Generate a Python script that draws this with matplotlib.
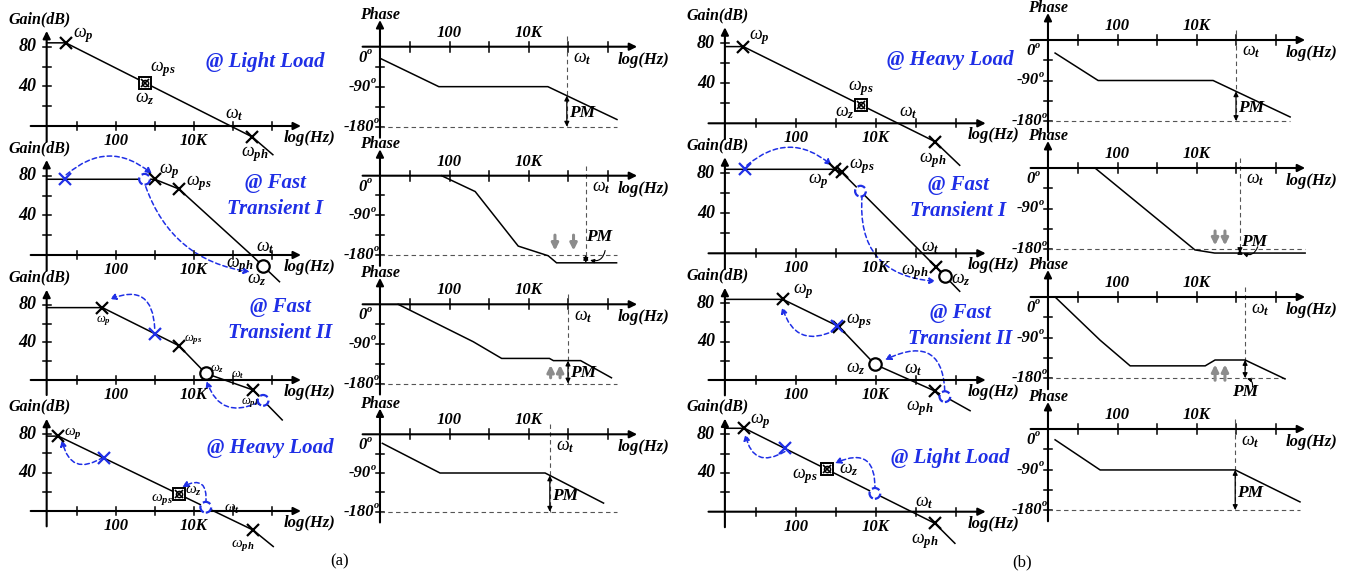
import numpy as np
import matplotlib
matplotlib.use("Agg")
import matplotlib.pyplot as plt
from matplotlib.patches import FancyArrowPatch

plt.rcParams["font.family"] = ["Liberation Serif", "DejaVu Serif"]
plt.rcParams["mathtext.fontset"] = "custom"
plt.rcParams["mathtext.rm"] = "Liberation Serif"
plt.rcParams["mathtext.it"] = "Liberation Serif:italic"
plt.rcParams["mathtext.bf"] = "Liberation Serif:bold:italic"

# ---------------------------------------------------------------- data
# x values are log10(f) in decades (tick 1 = 10 Hz ... tick 6 = 1 MHz)
# gain values in dB, phase values in degrees

# column (a) gain curves
ga1_x = [0.23, 0.72, 5.50, 6.03]
ga1_y = [84, 84, -11, -29]
ga2_x = [0.23, 3.00, 3.62, 5.48, 6.20]
ga2_y = [76.5, 76.5, 66.7, 0, -27]
ga3_x = [0.23, 1.66, 3.62, 4.31, 5.52, 6.27]
ga3_y = [77, 77, 36.5, 7, -10.6, -42.5]
ga4_x = [0.23, 0.53, 5.52, 6.04]
ga4_y = [78, 78, -19.8, -37]

# column (b) gain curves
gb1_x = [0.23, 0.69, 5.48, 6.10]
gb1_y = [76.7, 76.7, -18.3, -42]
gb2_x = [0.23, 2.98, 3.15, 5.50, 6.10]
gb2_y = [84, 84, 81, -13.4, -38]
gb3_x = [0.23, 1.68, 3.08, 3.98, 5.48, 6.36]
gb3_y = [84, 84, 55.6, 16.3, -11.5, -32]
gb4_x = [0.23, 0.72, 5.48, 5.98]
gb4_y = [86, 86, -12, -32.6]

# column (a) phase curves
pa1_x = [0.24, 1.73, 4.49, 6.24]
pa1_y = [-26, -90, -90, -164]
pa2_x = [1.80, 2.65, 3.74, 4.50, 4.71, 6.23]
pa2_y = [0, -36, -160, -182, -198, -198]
pa3_x = [0.70, 2.60, 3.32, 4.53, 4.63, 5.32, 6.10]
pa3_y = [0, -85, -123, -123, -128, -128, -167]
pa4_x = [0.30, 1.76, 4.42, 5.90]
pa4_y = [-21, -90, -90, -160]

# column (b) phase curves
pb1_x = [0.42, 1.51, 4.42, 6.37]
pb1_y = [-29, -90, -90, -171]
pb2_x = [1.43, 3.96, 4.46, 6.75]
pb2_y = [0, -182, -189, -189]
pb3_x = [0.42, 1.56, 2.32, 4.22, 4.47, 5.23, 6.24]
pb3_y = [0, -96, -153, -153, -140, -140, -182]
pb4_x = [0.42, 1.56, 4.98, 6.62]
pb4_y = [-24, -91, -91, -162]

# crossover frequency (decades) per phase panel
wt_a = [4.97, 5.45, 5.00, 4.54]
wt_b = [5.00, 5.10, 5.23, 4.98]

gain_ticks = [20, 40, 60, 80]
gain_labels = ["80", "40"]
phase_ticks = [-45, -90, -135, -180]
phase_labels = [(0, "0"), (-90, "-90"), (-180, "-180")]
freq_ticks = [1, 2, 3, 4, 5, 6]
freq_labels = {2: "100", 4: "10K"}

# --------------------------------------------------------------- figure
W, H = 1367, 571
fig = plt.figure(figsize=(W / 100, H / 100), dpi=100)

BLUE = "#1f2fe6"
GRAY = "#8c8c8c"
TXT = dict(fontweight="bold", fontstyle="italic", color="black")


def make_panel(ox, oy, sx, sy, xlim, ylim):
    """Axes where x=0 maps to pixel ox, y=0 to pixel oy (sx, sy px per unit)."""
    x0, x1 = ox + xlim[0] * sx, ox + xlim[1] * sx
    ytop, ybot = oy - ylim[1] * sy, oy - ylim[0] * sy
    ax = fig.add_axes([x0 / W, 1 - ybot / H, (x1 - x0) / W, (ybot - ytop) / H])
    ax.set_xlim(*xlim)
    ax.set_ylim(*ylim)
    ax.axis("off")
    ax.sx, ax.sy = sx, sy
    return ax


def arrow_line(ax, p0, p1, lw=1.5):
    ax.annotate("", xy=p1, xytext=p0, annotation_clip=False,
                arrowprops=dict(arrowstyle="-|>", lw=lw, color="black",
                                mutation_scale=11, shrinkA=0, shrinkB=0))


def gain_axes(ax):
    yx = 0.23
    arrow_line(ax, (-0.18, 0), (6.75, 0))
    arrow_line(ax, (yx, -16), (yx, 96))
    for t in freq_ticks:
        ax.plot([t, t], [-4 / ax.sy, 4 / ax.sy], color="black", lw=1.1)
    for t in gain_ticks:
        ax.plot([yx - 4 / ax.sx, yx + 4 / ax.sx], [t, t], color="black", lw=1.1)
    for t, s in freq_labels.items():
        ax.annotate(s, (t, 0), xytext=(0, -15), textcoords="offset pixels",
                    ha="center", va="center", fontsize=12, **TXT)
    for s in gain_labels:
        ax.annotate(s, (yx, float(s)), xytext=(-10, 0), textcoords="offset pixels",
                    ha="right", va="center", fontsize=13, **TXT)
    ax.annotate("log(Hz)", (6.0, 0), xytext=(38, -12), textcoords="offset pixels",
                ha="center", va="center", fontsize=12, **TXT)
    ax.annotate("Gain(dB)", (yx, 96), xytext=(-7, 12), textcoords="offset pixels",
                ha="center", va="center", fontsize=11.5, **TXT)


def phase_axes(ax, wt, pm_top, pm_bottom=-180, dash_end=6.24):
    yx = 0.24
    arrow_line(ax, (-0.2, 0), (6.75, 0))
    arrow_line(ax, (yx, -205), (yx, 60))
    for t in freq_ticks:
        ax.plot([t, t], [-5 / ax.sy, 5 / ax.sy], color="black", lw=1.1)
    for t in phase_ticks:
        ax.plot([yx - 4 / ax.sx, yx + 4 / ax.sx], [t, t], color="black", lw=1.1)
    for t, s in freq_labels.items():
        ax.annotate(s, (t, 0), xytext=(0, 14), textcoords="offset pixels",
                    ha="center", va="center", fontsize=12, **TXT)
    for v, s in phase_labels:
        dx = {0: -13, -90: -9, -180: -6}[v]
        dy = -11 if v == 0 else 0
        ax.annotate(s, (yx, v), xytext=(dx, dy), textcoords="offset pixels",
                    ha="right", va="center", fontsize=12, **TXT)
        ax.annotate("o", (yx, v), xytext=(dx, dy + 6), textcoords="offset pixels",
                    ha="left", va="center", fontsize=7.5, **TXT)
    ax.annotate("Phase", (yx, 60), xytext=(0, 5), textcoords="offset pixels",
                ha="center", va="center", fontsize=11.5, **TXT)
    ax.annotate("log(Hz)", (6.0, 0), xytext=(36, -13), textcoords="offset pixels",
                ha="center", va="center", fontsize=12, **TXT)
    ax.annotate(r"$\omega_{\mathbf{t}}$", (wt, 0), xytext=(15, -12),
                textcoords="offset pixels", ha="center", va="center", fontsize=13)
    ax.plot([wt, wt], [8 / ax.sy + 5, -180], color="#555555", lw=0.8,
            ls=(0, (4, 3)))
    ax.plot([yx, dash_end], [-180, -180], color="#555555", lw=0.8, ls=(0, (4, 3)))
    ax.annotate("", xy=(wt, pm_bottom), xytext=(wt, pm_top),
                arrowprops=dict(arrowstyle="<|-|>", lw=0.9, color="black",
                                mutation_scale=7, shrinkA=0, shrinkB=0))


def curve(ax, xs, ys):
    ax.plot(xs, ys, color="black", lw=1.1, solid_joinstyle="miter", clip_on=False)


def on(xs, ys, x):
    return float(np.interp(x, xs, ys))


def xmark(ax, xs, ys, x, color="black"):
    ax.plot([x], [on(xs, ys, x)], marker="x", ms=8, mew=1.6, color=color,
            clip_on=False, zorder=5)


def omark(ax, xs, ys, x, color="black", dashed=False, s=80):
    ax.scatter([x], [on(xs, ys, x)], s=s, facecolors="white", edgecolors=color,
               linewidths=1.6, linestyles="--" if dashed else "-",
               zorder=6, clip_on=False)


def boxmark(ax, xs, ys, x):
    y = on(xs, ys, x)
    ax.plot([x], [y], marker="s", ms=8, mfc="white", mec="black", mew=1.4, zorder=5)
    ax.plot([x], [y], marker="x", ms=6, color="black", mew=1.2, zorder=6)
    ax.plot([x], [y], marker="o", ms=4.5, mfc="none", mec="black", mew=1.0, zorder=6)


def wlabel(ax, xs, ys, x, sub, dx, dy, size=13):
    ax.annotate(r"$\omega_{\mathbf{%s}}$" % sub, (x, on(xs, ys, x)), xytext=(dx, dy),
                textcoords="offset pixels", ha="center", va="center", fontsize=size,
                annotation_clip=False)


def arc(ax, p0, p1, rad):
    a = FancyArrowPatch(p0, p1, connectionstyle="arc3,rad=%s" % rad,
                        arrowstyle="-|>", mutation_scale=9, lw=1.1, color=BLUE,
                        linestyle=(0, (3, 2)), shrinkA=0, shrinkB=0, clip_on=False)
    ax.add_patch(a)


def hook(ax, p0, p1, rad):
    a = FancyArrowPatch(p0, p1, connectionstyle="arc3,rad=%s" % rad,
                        arrowstyle="-|>", mutation_scale=6, lw=0.8, color="black",
                        shrinkA=0, shrinkB=0, clip_on=False)
    ax.add_patch(a)


def gray_arrows(ax, xs, y0, y1):
    for gx in xs:
        ax.annotate("", xy=(gx, y1), xytext=(gx, y0),
                    arrowprops=dict(arrowstyle="-|>", lw=2.2, color=GRAY,
                                    mutation_scale=10, shrinkA=0, shrinkB=0))


def pm_label(ax, x, y, dx=15):
    ax.annotate("PM", (x, y), xytext=(dx, 0), textcoords="offset pixels",
                ha="center", va="center", fontsize=12.5, **TXT)


def title(x, y, lines):
    for i, s in enumerate(lines):
        fig.text(x / W, 1 - (y + 26 * i) / H, s, color=BLUE, fontsize=15,
                 fontweight="bold", fontstyle="italic", ha="center", va="center")


GX = (-0.6, 7.6)
GY = (-45, 110)
PY = (-215, 75)

# ------------------------------------------------------ column (a) gain
ax = make_panel(37.7, 126, 39.0, 0.99, GX, GY)
gain_axes(ax)
curve(ax, ga1_x, ga1_y)
xmark(ax, ga1_x, ga1_y, 0.72)
boxmark(ax, ga1_x, ga1_y, 2.75)
xmark(ax, ga1_x, ga1_y, 5.50)
wlabel(ax, ga1_x, ga1_y, 0.72, "p", 18, 8)
wlabel(ax, ga1_x, ga1_y, 2.75, "ps", 18, 14)
wlabel(ax, ga1_x, ga1_y, 2.75, "z", 0, -16)
wlabel(ax, ga1_x, ga1_y, 4.95, "t", 4, 12)
wlabel(ax, ga1_x, ga1_y, 5.50, "ph", 2, -17)
title(265, 62, ["@ Light Load"])

ax = make_panel(37.7, 255, 39.0, 0.99, GX, GY)
gain_axes(ax)
curve(ax, ga2_x, ga2_y)
xmark(ax, ga2_x, ga2_y, 3.00)
xmark(ax, ga2_x, ga2_y, 3.62)
omark(ax, ga2_x, ga2_y, 5.77)
xmark(ax, ga2_x, ga2_y, 0.70, color=BLUE)
omark(ax, ga2_x, ga2_y, 2.74, color=BLUE, dashed=True, s=60)
arc(ax, (0.73, 81), (2.93, 82), -0.42)
arc(ax, (2.77, 69), (5.44, -17), 0.3)
wlabel(ax, ga2_x, ga2_y, 3.00, "p", 15, 8)
wlabel(ax, ga2_x, ga2_y, 3.62, "ps", 20, 6)
wlabel(ax, ga2_x, ga2_y, 5.48, "t", 14, 7)
wlabel(ax, ga2_x, ga2_y, 5.48, "ph", -12, -10)
wlabel(ax, ga2_x, ga2_y, 5.77, "z", -6, -14)
title(275, 183, ["@ Fast", "Transient I"])

ax = make_panel(37.7, 380, 39.0, 0.94, GX, GY)
gain_axes(ax)
curve(ax, ga3_x, ga3_y)
xmark(ax, ga3_x, ga3_y, 1.66)
xmark(ax, ga3_x, ga3_y, 3.62)
omark(ax, ga3_x, ga3_y, 4.31)
xmark(ax, ga3_x, ga3_y, 5.52)
xmark(ax, ga3_x, ga3_y, 3.00, color=BLUE)
omark(ax, ga3_x, ga3_y, 5.78, color=BLUE, dashed=True, s=60)
arc(ax, (3.0, 55), (1.85, 86), 0.7)
arc(ax, (5.65, -24), (4.33, -1), -0.55)
wlabel(ax, ga3_x, ga3_y, 1.66, "p", 1, -13, size=9)
wlabel(ax, ga3_x, ga3_y, 3.62, "ps", 14, 6, size=9)
wlabel(ax, ga3_x, ga3_y, 4.31, "z", 11, 5, size=9)
wlabel(ax, ga3_x, ga3_y, 5.00, "t", 5, 8, size=9)
wlabel(ax, ga3_x, ga3_y, 5.52, "ph", -2, -13, size=9)
title(280, 307, ["@ Fast", "Transient II"])

ax = make_panel(37.7, 511, 39.0, 0.96, GX, GY)
gain_axes(ax)
curve(ax, ga4_x, ga4_y)
xmark(ax, ga4_x, ga4_y, 0.53)
boxmark(ax, ga4_x, ga4_y, 3.62)
xmark(ax, ga4_x, ga4_y, 5.52)
xmark(ax, ga4_x, ga4_y, 1.70, color=BLUE)
omark(ax, ga4_x, ga4_y, 4.31, color=BLUE, dashed=True, s=60)
arc(ax, (1.68, 56), (0.62, 74), -0.7)
arc(ax, (4.31, 8), (3.70, 25), 0.9)
wlabel(ax, ga4_x, ga4_y, 0.53, "p", 15, 3, size=11)
wlabel(ax, ga4_x, ga4_y, 3.62, "ps", -17, -5, size=11)
wlabel(ax, ga4_x, ga4_y, 3.62, "z", 15, 3, size=11)
wlabel(ax, ga4_x, ga4_y, 4.75, "t", 9, 7, size=11)
wlabel(ax, ga4_x, ga4_y, 5.52, "ph", -10, -15, size=11)
title(270, 448, ["@ Heavy Load"])
fig.text(340 / W, 1 - 561 / H, "(a)", fontsize=12, ha="center", va="center")

# ------------------------------------------------------ column (b) gain
ax = make_panel(715.7, 123.3, 40.0, 1.0, GX, GY)
gain_axes(ax)
curve(ax, gb1_x, gb1_y)
xmark(ax, gb1_x, gb1_y, 0.69)
boxmark(ax, gb1_x, gb1_y, 3.62)
xmark(ax, gb1_x, gb1_y, 5.48)
wlabel(ax, gb1_x, gb1_y, 0.69, "p", 16, 10)
wlabel(ax, gb1_x, gb1_y, 3.62, "ps", 0, 17)
wlabel(ax, gb1_x, gb1_y, 3.62, "z", -16, -8)
wlabel(ax, gb1_x, gb1_y, 4.56, "t", 10, 11)
wlabel(ax, gb1_x, gb1_y, 5.48, "ph", -2, -18)
title(950, 60, ["@ Heavy Load"])

ax = make_panel(715.7, 253.3, 40.0, 1.0, GX, GY)
gain_axes(ax)
curve(ax, gb2_x, gb2_y)
xmark(ax, gb2_x, gb2_y, 2.98)
xmark(ax, gb2_x, gb2_y, 3.15)
xmark(ax, gb2_x, gb2_y, 5.50)
omark(ax, gb2_x, gb2_y, 5.73)
xmark(ax, gb2_x, gb2_y, 0.73, color=BLUE)
omark(ax, gb2_x, gb2_y, 3.62, color=BLUE, dashed=True, s=60)
arc(ax, (0.78, 88), (2.90, 88), -0.42)
arc(ax, (3.66, 58), (5.50, -28), 0.5)
wlabel(ax, gb2_x, gb2_y, 2.98, "p", -17, -12)
wlabel(ax, gb2_x, gb2_y, 3.15, "ps", 20, 6)
wlabel(ax, gb2_x, gb2_y, 5.32, "t", 2, 12)
wlabel(ax, gb2_x, gb2_y, 5.50, "ph", -21, -5)
wlabel(ax, gb2_x, gb2_y, 5.73, "z", 16, -3)
title(958, 185, ["@ Fast", "Transient I"])

ax = make_panel(715.7, 380, 40.0, 0.96, GX, GY)
gain_axes(ax)
curve(ax, gb3_x, gb3_y)
xmark(ax, gb3_x, gb3_y, 1.68)
xmark(ax, gb3_x, gb3_y, 3.08)
omark(ax, gb3_x, gb3_y, 3.98)
xmark(ax, gb3_x, gb3_y, 5.48)
xmark(ax, gb3_x, gb3_y, 3.03, color=BLUE)
omark(ax, gb3_x, gb3_y, 5.73, color=BLUE, dashed=True, s=60)
arc(ax, (3.0, 52), (1.66, 76), -0.58)
arc(ax, (5.73, -19), (4.23, 21), 0.8)
wlabel(ax, gb3_x, gb3_y, 1.68, "p", 20, 8)
wlabel(ax, gb3_x, gb3_y, 3.08, "ps", 20, 6)
wlabel(ax, gb3_x, gb3_y, 3.98, "z", -19, -4)
wlabel(ax, gb3_x, gb3_y, 4.95, "t", 0, 12)
wlabel(ax, gb3_x, gb3_y, 5.48, "ph", -15, -17)
title(960, 313, ["@ Fast", "Transient II"])

ax = make_panel(715.7, 511.7, 40.0, 0.97, GX, GY)
gain_axes(ax)
curve(ax, gb4_x, gb4_y)
xmark(ax, gb4_x, gb4_y, 0.72)
boxmark(ax, gb4_x, gb4_y, 2.77)
xmark(ax, gb4_x, gb4_y, 5.48)
xmark(ax, gb4_x, gb4_y, 1.73, color=BLUE)
omark(ax, gb4_x, gb4_y, 3.98, color=BLUE, dashed=True, s=60)
arc(ax, (1.73, 62), (0.74, 80), -0.68)
arc(ax, (3.98, 22), (2.98, 50), 0.8)
wlabel(ax, gb4_x, gb4_y, 0.72, "p", 16, 7)
wlabel(ax, gb4_x, gb4_y, 2.77, "ps", -22, -7)
wlabel(ax, gb4_x, gb4_y, 2.77, "z", 22, 0)
wlabel(ax, gb4_x, gb4_y, 4.94, "t", 11, 10)
wlabel(ax, gb4_x, gb4_y, 5.48, "ph", -10, -18)
title(950, 458, ["@ Light Load"])
fig.text(1022 / W, 1 - 562 / H, "(b)", fontsize=12, ha="center", va="center")

# ----------------------------------------------------- column (a) phase
ax = make_panel(370.5, 46.7, 39.5, 0.444, GX, PY)
phase_axes(ax, wt_a[0], on(pa1_x, pa1_y, wt_a[0]))
curve(ax, pa1_x, pa1_y)
pm_label(ax, wt_a[0], -150)

ax = make_panel(370.5, 175.7, 39.5, 0.44, GX, PY)
phase_axes(ax, wt_a[1], -180, -198, dash_end=6.23)
curve(ax, pa2_x, pa2_y)
gray_arrows(ax, (4.67, 5.14), -135, -170)
pm_label(ax, wt_a[1], -140, 13)
hook(ax, (5.94, -170), (5.56, -192), -0.5)

ax = make_panel(370.5, 304.3, 39.5, 0.44, GX, PY)
phase_axes(ax, wt_a[2], on(pa3_x, pa3_y, wt_a[2]))
curve(ax, pa3_x, pa3_y)
gray_arrows(ax, (4.56, 4.80), -167, -138)
pm_label(ax, wt_a[2], -157)

ax = make_panel(370.5, 434.3, 39.5, 0.43, GX, PY)
phase_axes(ax, wt_a[3], on(pa4_x, pa4_y, wt_a[3]))
curve(ax, pa4_x, pa4_y)
pm_label(ax, wt_a[3], -143)

# ----------------------------------------------------- column (b) phase
ax = make_panel(1038.5, 40, 39.5, 0.45, GX, PY)
phase_axes(ax, wt_b[0], on(pb1_x, pb1_y, wt_b[0]), dash_end=6.37)
curve(ax, pb1_x, pb1_y)
pm_label(ax, wt_b[0], -150)

ax = make_panel(1038.5, 168, 39.5, 0.45, GX, PY)
phase_axes(ax, wt_b[1], -180, -189, dash_end=6.75)
curve(ax, pb2_x, pb2_y)
gray_arrows(ax, (4.47, 4.72), -140, -172)
pm_label(ax, wt_b[1], -165, 14)
hook(ax, (5.55, -175), (5.18, -190), -0.5)

ax = make_panel(1038.5, 297, 39.5, 0.45, GX, PY)
phase_axes(ax, wt_b[2], on(pb3_x, pb3_y, wt_b[2]), dash_end=6.24)
curve(ax, pb3_x, pb3_y)
gray_arrows(ax, (4.47, 4.72), -185, -150)
pm_label(ax, wt_b[2], -212, 0)
hook(ax, (5.42, -200), (5.28, -181), 0.4)

ax = make_panel(1038.5, 429, 39.5, 0.45, GX, PY)
phase_axes(ax, wt_b[3], on(pb4_x, pb4_y, wt_b[3]), dash_end=6.62)
curve(ax, pb4_x, pb4_y)
pm_label(ax, wt_b[3], -143)

fig.savefig("out.png", dpi=100)
